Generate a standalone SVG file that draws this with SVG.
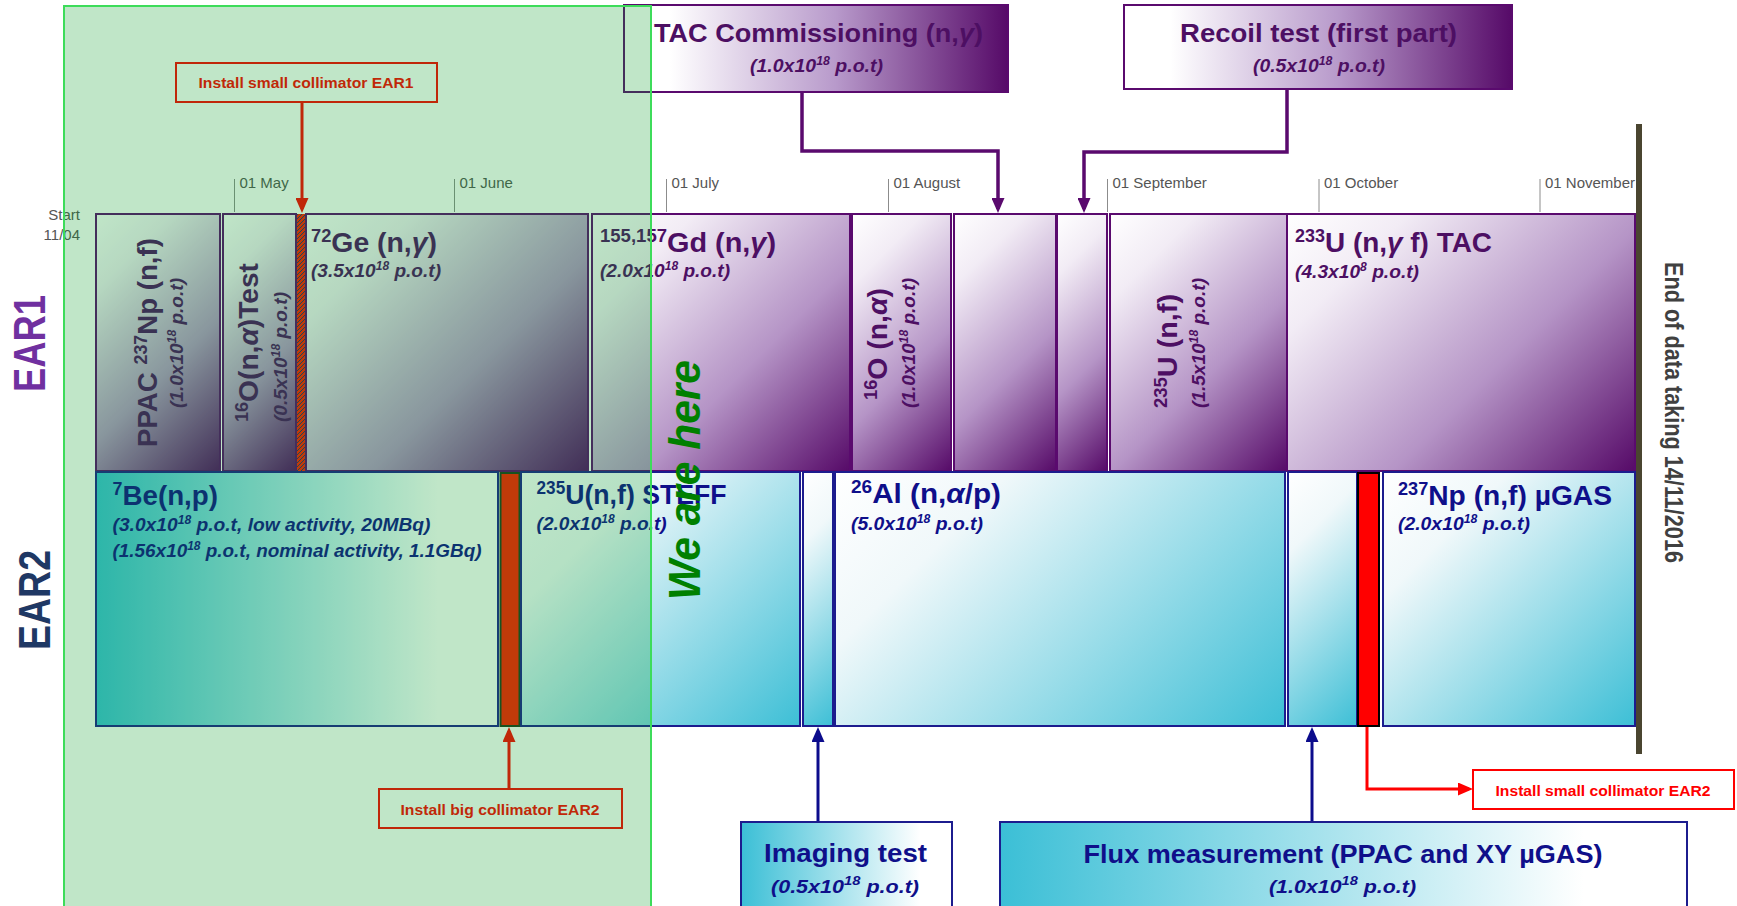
<svg xmlns="http://www.w3.org/2000/svg" width="1737" height="906" viewBox="0 0 1737 906">
<style>
.f{font-family:'Liberation Sans',Arial,sans-serif;font-weight:bold}
.p{fill:#4d0f63}
.n{fill:#0f0f8a}
.m{font-size:28px}
.s{font-size:19px;font-style:italic}
.tick{stroke:#8c8c8c;stroke-width:1}
.tl{font-family:'Liberation Sans',Arial,sans-serif;font-size:15px;fill:#555}
.b1{stroke:#5a0a6e;stroke-width:2}
.b2{stroke:#1c1c8e;stroke-width:2}
.lab{fill:#fff;stroke-width:2}
.lt{font-family:'Liberation Sans',Arial,sans-serif;font-weight:bold;font-size:15px}
.top{font-size:26px}
</style>
<defs>
<linearGradient id="pu" gradientUnits="objectBoundingBox" x1="0" y1="0" x2="1" y2="1">
<stop offset="0" stop-color="#ffffff"/><stop offset="0.2" stop-color="#f2ecf5"/><stop offset="0.6" stop-color="#b594c6"/><stop offset="1" stop-color="#560a68"/>
</linearGradient>
<linearGradient id="gPPAC" href="#pu" gradientUnits="userSpaceOnUse" x1="96" y1="214" x2="286.5" y2="404.5"/>
<linearGradient id="g16T" href="#pu" gradientUnits="userSpaceOnUse" x1="223" y1="214" x2="388" y2="379"/>
<linearGradient id="gGe" href="#pu" gradientUnits="userSpaceOnUse" x1="306" y1="214" x2="575.5" y2="483.5"/>
<linearGradient id="gGd" href="#pu" gradientUnits="userSpaceOnUse" x1="592" y1="214" x2="849.5" y2="471.5"/>
<linearGradient id="g16O" href="#pu" gradientUnits="userSpaceOnUse" x1="852" y1="214" x2="1030" y2="392"/>
<linearGradient id="gE1" href="#pu" gradientUnits="userSpaceOnUse" x1="954" y1="214" x2="1133.5" y2="393.5"/>
<linearGradient id="gE2" href="#pu" gradientUnits="userSpaceOnUse" x1="1057" y1="214" x2="1210.5" y2="367.5"/>
<linearGradient id="g235" href="#pu" gradientUnits="userSpaceOnUse" x1="1110" y1="214" x2="1327" y2="431"/>
<linearGradient id="g233" href="#pu" gradientUnits="userSpaceOnUse" x1="1287" y1="214" x2="1589.5" y2="516.5"/>
<linearGradient id="cy" gradientUnits="objectBoundingBox" x1="0" y1="0" x2="1" y2="1">
<stop offset="0" stop-color="#ffffff"/><stop offset="0.25" stop-color="#f0f8fa"/><stop offset="1" stop-color="#3dbfd6"/>
</linearGradient>
<linearGradient id="gST" href="#cy" gradientUnits="userSpaceOnUse" x1="521" y1="472" x2="787.5" y2="738.5"/>
<linearGradient id="gS1" href="#cy" gradientUnits="userSpaceOnUse" x1="803" y1="472" x2="945" y2="614"/>
<linearGradient id="gAl" href="#cy" gradientUnits="userSpaceOnUse" x1="835" y1="472" x2="1187" y2="824"/>
<linearGradient id="gS2" href="#cy" gradientUnits="userSpaceOnUse" x1="1288" y1="472" x2="1449.5" y2="633.5"/>
<linearGradient id="gNp" href="#cy" gradientUnits="userSpaceOnUse" x1="1383" y1="472" x2="1636" y2="725"/>
<linearGradient id="hc" x1="0" y1="0" x2="1" y2="0">
<stop offset="0" stop-color="#3bbfd6"/><stop offset="0.85" stop-color="#ffffff"/>
</linearGradient>
<linearGradient id="hp" x1="0" y1="0" x2="1" y2="0">
<stop offset="0" stop-color="#ffffff"/><stop offset="0.12" stop-color="#ffffff"/><stop offset="0.55" stop-color="#b89acb"/><stop offset="1" stop-color="#560a68"/>
</linearGradient>
<pattern id="hatch" width="4" height="4" patternUnits="userSpaceOnUse">
<rect width="4" height="4" fill="#ff1a00"/><path d="M0,4 L4,0" stroke="#2a2a6a" stroke-width="1"/>
</pattern>
<marker id="aP" viewBox="0 0 15 13" refX="11" refY="6.5" markerWidth="15" markerHeight="13" markerUnits="userSpaceOnUse" orient="auto"><path d="M0,0 L15,6.5 L0,13 z" fill="#5a0a6e"/></marker>
<marker id="aN" viewBox="0 0 15 13" refX="11" refY="6.5" markerWidth="15" markerHeight="13" markerUnits="userSpaceOnUse" orient="auto"><path d="M0,0 L15,6.5 L0,13 z" fill="#0c0c8c"/></marker>
<marker id="aB" viewBox="0 0 15 13" refX="11" refY="6.5" markerWidth="15" markerHeight="13" markerUnits="userSpaceOnUse" orient="auto"><path d="M0,0 L15,6.5 L0,13 z" fill="#ff0000"/></marker>
</defs>
<rect width="1737" height="906" fill="#ffffff"/>

<g id="axis">
<line class="tick" x1="234.5" y1="179" x2="234.5" y2="212"/><text class="tl" x="239.5" y="188">01 May</text>
<line class="tick" x1="454.5" y1="179" x2="454.5" y2="212"/><text class="tl" x="459.5" y="188">01 June</text>
<line class="tick" x1="666.5" y1="179" x2="666.5" y2="212"/><text class="tl" x="671.5" y="188">01 July</text>
<line class="tick" x1="888.5" y1="179" x2="888.5" y2="212"/><text class="tl" x="893.5" y="188">01 August</text>
<line class="tick" x1="1107.5" y1="179" x2="1107.5" y2="212"/><text class="tl" x="1112.5" y="188">01 September</text>
<line class="tick" x1="1319" y1="179" x2="1319" y2="212"/><text class="tl" x="1324" y="188">01 October</text>
<line class="tick" x1="1540" y1="179" x2="1540" y2="212"/><text class="tl" x="1545" y="188">01 November</text>
<text class="tl" x="80" y="220" text-anchor="end">Start</text>
<text class="tl" x="80" y="240" text-anchor="end">11/04</text>
</g>

<g id="ear-labels">
<text class="f" font-size="45" fill="#7030a0" transform="translate(45,392) rotate(-90)" textLength="97" lengthAdjust="spacingAndGlyphs">EAR1</text>
<text class="f" font-size="45" fill="#1f3864" transform="translate(50,650) rotate(-90)" textLength="100" lengthAdjust="spacingAndGlyphs">EAR2</text>
</g>

<g id="ear1-ppac">
<rect class="b1" x="96" y="214" width="124" height="257" fill="url(#gPPAC)"/>
<text class="f p m" transform="translate(157,447) rotate(-90)" textLength="209" lengthAdjust="spacingAndGlyphs">PPAC <tspan font-size="18" dy="-10">237</tspan><tspan dy="10">Np (n,f)</tspan></text>
<text class="f p s" transform="translate(183,408) rotate(-90)" textLength="130" lengthAdjust="spacingAndGlyphs">(1.0x10<tspan font-size="12" dy="-7">18</tspan><tspan dy="7"> p.o.t)</tspan></text>
</g>
<g id="ear1-16o-test">
<rect class="b1" x="223" y="214" width="73" height="257" fill="url(#g16T)"/>
<text class="f p m" transform="translate(258,422) rotate(-90)" textLength="159" lengthAdjust="spacingAndGlyphs"><tspan font-size="18" dy="-10">16</tspan><tspan dy="10">O(n,</tspan><tspan font-style="italic">α</tspan>)Test</text>
<text class="f p s" transform="translate(287,422) rotate(-90)" textLength="130" lengthAdjust="spacingAndGlyphs">(0.5x10<tspan font-size="12" dy="-7">18</tspan><tspan dy="7"> p.o.t)</tspan></text>
</g>
<g id="ear1-collimator">
<rect x="297" y="214" width="9" height="257" fill="url(#hatch)"/>
</g>
<g id="ear1-ge">
<rect class="b1" x="306" y="214" width="282" height="257" fill="url(#gGe)"/>
<text class="f p m" x="311" y="252" textLength="126" lengthAdjust="spacingAndGlyphs"><tspan font-size="18" dy="-10">72</tspan><tspan dy="10">Ge (n,</tspan><tspan font-style="italic">γ</tspan>)</text>
<text class="f p s" x="311" y="277" textLength="130" lengthAdjust="spacingAndGlyphs">(3.5x10<tspan font-size="12" dy="-7">18</tspan><tspan dy="7"> p.o.t)</tspan></text>
</g>
<g id="ear1-gd">
<rect class="b1" x="592" y="214" width="258" height="257" fill="url(#gGd)"/>
<text class="f p m" x="600" y="252" textLength="176" lengthAdjust="spacingAndGlyphs"><tspan font-size="18" dy="-10">155,157</tspan><tspan dy="10">Gd (n,</tspan><tspan font-style="italic">γ</tspan>)</text>
<text class="f p s" x="600" y="277" textLength="130" lengthAdjust="spacingAndGlyphs">(2.0x10<tspan font-size="12" dy="-7">18</tspan><tspan dy="7"> p.o.t)</tspan></text>
</g>
<g id="ear1-16o">
<rect class="b1" x="852" y="214" width="99" height="257" fill="url(#g16O)"/>
<text class="f p m" transform="translate(887,400) rotate(-90)" textLength="112" lengthAdjust="spacingAndGlyphs"><tspan font-size="18" dy="-10">16</tspan><tspan dy="10">O (n,</tspan><tspan font-style="italic">α</tspan>)</text>
<text class="f p s" transform="translate(915,408) rotate(-90)" textLength="130" lengthAdjust="spacingAndGlyphs">(1.0x10<tspan font-size="12" dy="-7">18</tspan><tspan dy="7"> p.o.t)</tspan></text>
</g>
<g id="ear1-tac-slot">
<rect class="b1" x="954" y="214" width="102" height="257" fill="url(#gE1)"/>
</g>
<g id="ear1-recoil-slot">
<rect class="b1" x="1057" y="214" width="50" height="257" fill="url(#gE2)"/>
</g>
<g id="ear1-235u">
<rect class="b1" x="1110" y="214" width="177" height="257" fill="url(#g235)"/>
<text class="f p m" transform="translate(1177,408) rotate(-90)" textLength="114" lengthAdjust="spacingAndGlyphs"><tspan font-size="18" dy="-10">235</tspan><tspan dy="10">U (n,f)</tspan></text>
<text class="f p s" transform="translate(1205,408) rotate(-90)" textLength="130" lengthAdjust="spacingAndGlyphs">(1.5x10<tspan font-size="12" dy="-7">18</tspan><tspan dy="7"> p.o.t)</tspan></text>
</g>
<g id="ear1-233u">
<rect class="b1" x="1287" y="214" width="348" height="257" fill="url(#g233)"/>
<text class="f p m" x="1295" y="252" textLength="197" lengthAdjust="spacingAndGlyphs"><tspan font-size="18" dy="-10">233</tspan><tspan dy="10">U (n,</tspan><tspan font-style="italic">γ</tspan> f) TAC</text>
<text class="f p s" x="1295" y="278" textLength="124" lengthAdjust="spacingAndGlyphs">(4.3x10<tspan font-size="12" dy="-7">8</tspan><tspan dy="7"> p.o.t)</tspan></text>
</g>

<g id="ear2-7be">
<rect class="b2" x="96" y="472" width="402" height="254" fill="url(#hc)"/>
<text class="f n m" x="112.5" y="505" textLength="105.5" lengthAdjust="spacingAndGlyphs"><tspan font-size="18" dy="-10">7</tspan><tspan dy="10">Be(n,p)</tspan></text>
<text class="f n s" x="112.5" y="531" textLength="318" lengthAdjust="spacingAndGlyphs">(3.0x10<tspan font-size="12" dy="-7">18</tspan><tspan dy="7"> p.o.t, low activity, 20MBq)</tspan></text>
<text class="f n s" x="112.5" y="557" textLength="369" lengthAdjust="spacingAndGlyphs">(1.56x10<tspan font-size="12" dy="-7">18</tspan><tspan dy="7"> p.o.t, nominal activity, 1.1GBq)</tspan></text>
</g>
<g id="ear2-big-collimator">
<rect x="500.5" y="473" width="19" height="253" fill="#ff1a00" stroke="#1e3a1e" stroke-width="2"/>
</g>
<g id="ear2-steff">
<rect class="b2" x="521" y="472" width="279" height="254" fill="url(#gST)"/>
<text class="f n m" x="536.6" y="504" textLength="190" lengthAdjust="spacingAndGlyphs"><tspan font-size="18" dy="-10">235</tspan><tspan dy="10">U(n,f) STEFF</tspan></text>
<text class="f n s" x="536.6" y="530" textLength="130" lengthAdjust="spacingAndGlyphs">(2.0x10<tspan font-size="12" dy="-7">18</tspan><tspan dy="7"> p.o.t)</tspan></text>
</g>
<g id="ear2-imaging-slot">
<rect class="b2" x="803" y="472" width="30" height="254" fill="url(#gS1)"/>
</g>
<g id="ear2-26al">
<rect class="b2" x="835" y="472" width="450" height="254" fill="url(#gAl)"/>
<text class="f n m" x="851" y="503" textLength="150" lengthAdjust="spacingAndGlyphs"><tspan font-size="18" dy="-10">26</tspan><tspan dy="10">Al (n,</tspan><tspan font-style="italic">α</tspan>/p)</text>
<text class="f n s" x="851" y="530" textLength="132" lengthAdjust="spacingAndGlyphs">(5.0x10<tspan font-size="12" dy="-7">18</tspan><tspan dy="7"> p.o.t)</tspan></text>
</g>
<g id="ear2-flux-slot">
<rect class="b2" x="1288" y="472" width="69" height="254" fill="url(#gS2)"/>
</g>
<g id="ear2-small-collimator">
<rect x="1358" y="473" width="21" height="253" fill="#ff0000" stroke="#000000" stroke-width="2"/>
</g>
<g id="ear2-237np">
<rect class="b2" x="1383" y="472" width="252" height="254" fill="url(#gNp)"/>
<text class="f n m" x="1398" y="505" textLength="214" lengthAdjust="spacingAndGlyphs"><tspan font-size="18" dy="-10">237</tspan><tspan dy="10">Np (n,f) µGAS</tspan></text>
<text class="f n s" x="1398" y="530" textLength="132" lengthAdjust="spacingAndGlyphs">(2.0x10<tspan font-size="12" dy="-7">18</tspan><tspan dy="7"> p.o.t)</tspan></text>
</g>

<g id="connectors" fill="none">
<path d="M302,102 V209" stroke="#ff0000" stroke-width="3" marker-end="url(#aB)"/>
<path d="M802,92 V151 H998 V209" stroke="#5a0a6e" stroke-width="3.5" marker-end="url(#aP)"/>
<path d="M1287,89 V152 H1084 V209" stroke="#5a0a6e" stroke-width="3.5" marker-end="url(#aP)"/>
<path d="M509,789 V731" stroke="#ff0000" stroke-width="3" marker-end="url(#aB)"/>
<path d="M818,822 V731" stroke="#0c0c8c" stroke-width="3" marker-end="url(#aN)"/>
<path d="M1312,822 V731" stroke="#0c0c8c" stroke-width="3" marker-end="url(#aN)"/>
<path d="M1367,727 V789 H1469" stroke="#ff0000" stroke-width="3" marker-end="url(#aB)"/>
</g>

<g id="tac-commissioning">
<rect class="b1" x="624" y="5" width="384" height="87" fill="url(#hp)"/>
<text class="f p top" x="818.5" y="42" text-anchor="middle" textLength="329" lengthAdjust="spacingAndGlyphs">TAC Commissioning (n,<tspan font-style="italic">γ</tspan>)</text>
<text class="f p s" x="816.5" y="72" text-anchor="middle" textLength="133" lengthAdjust="spacingAndGlyphs">(1.0x10<tspan font-size="12" dy="-7">18</tspan><tspan dy="7"> p.o.t)</tspan></text>
</g>
<g id="recoil-test">
<rect class="b1" x="1124" y="5" width="388" height="84" fill="url(#hp)"/>
<text class="f p top" x="1318.5" y="42" text-anchor="middle" textLength="277" lengthAdjust="spacingAndGlyphs">Recoil test (first part)</text>
<text class="f p s" x="1319" y="72" text-anchor="middle" textLength="132" lengthAdjust="spacingAndGlyphs">(0.5x10<tspan font-size="12" dy="-7">18</tspan><tspan dy="7"> p.o.t)</tspan></text>
</g>
<g id="imaging-test">
<rect class="b2" x="741" y="822" width="211" height="95" fill="url(#hc)"/>
<text class="f n top" x="845.5" y="862" text-anchor="middle" textLength="163" lengthAdjust="spacingAndGlyphs">Imaging test</text>
<text class="f n s" font-size="21" x="845" y="893" text-anchor="middle" textLength="148" lengthAdjust="spacingAndGlyphs">(0.5x10<tspan font-size="13" dy="-8">18</tspan><tspan dy="8"> p.o.t)</tspan></text>
</g>
<g id="flux-measurement">
<rect class="b2" x="1000" y="822" width="687" height="95" fill="url(#hc)"/>
<text class="f n top" x="1343" y="863" text-anchor="middle" textLength="519" lengthAdjust="spacingAndGlyphs">Flux measurement (PPAC and XY µGAS)</text>
<text class="f n s" font-size="21" x="1342.5" y="893" text-anchor="middle" textLength="147" lengthAdjust="spacingAndGlyphs">(1.0x10<tspan font-size="13" dy="-8">18</tspan><tspan dy="8"> p.o.t)</tspan></text>
</g>
<g id="install-small-collimator-ear1">
<rect class="lab" x="176" y="63" width="261" height="39" stroke="#ff0000"/>
<text class="lt" fill="#ff0000" x="306" y="88" text-anchor="middle" textLength="215" lengthAdjust="spacingAndGlyphs">Install small collimator EAR1</text>
</g>
<g id="install-big-collimator-ear2">
<rect class="lab" x="379" y="789" width="243" height="39" stroke="#ff0000"/>
<text class="lt" fill="#ff0000" x="500" y="815" text-anchor="middle" textLength="199" lengthAdjust="spacingAndGlyphs">Install big collimator EAR2</text>
</g>
<g id="install-small-collimator-ear2">
<rect class="lab" x="1473" y="770" width="261" height="39" stroke="#ff0000"/>
<text class="lt" fill="#ff0000" x="1603" y="796" text-anchor="middle" textLength="215" lengthAdjust="spacingAndGlyphs">Install small collimator EAR2</text>
</g>

<g id="done-overlay">
<rect x="64" y="6" width="587" height="910" fill="rgb(3,155,35)" fill-opacity="0.25" stroke="#3ddc5a" stroke-width="2"/>
</g>
<g id="we-are-here">
<text class="f" font-size="44" font-style="italic" fill="#008000" transform="translate(700,600) rotate(-90)" textLength="240" lengthAdjust="spacingAndGlyphs">We are here</text>
</g>
<g id="end-of-data">
<rect x="1636" y="124" width="6" height="630" fill="#4a4530"/>
<text class="f" font-size="25" fill="#404040" transform="translate(1665,262) rotate(90)" textLength="301" lengthAdjust="spacingAndGlyphs">End of data taking 14/11/2016</text>
</g>
</svg>
